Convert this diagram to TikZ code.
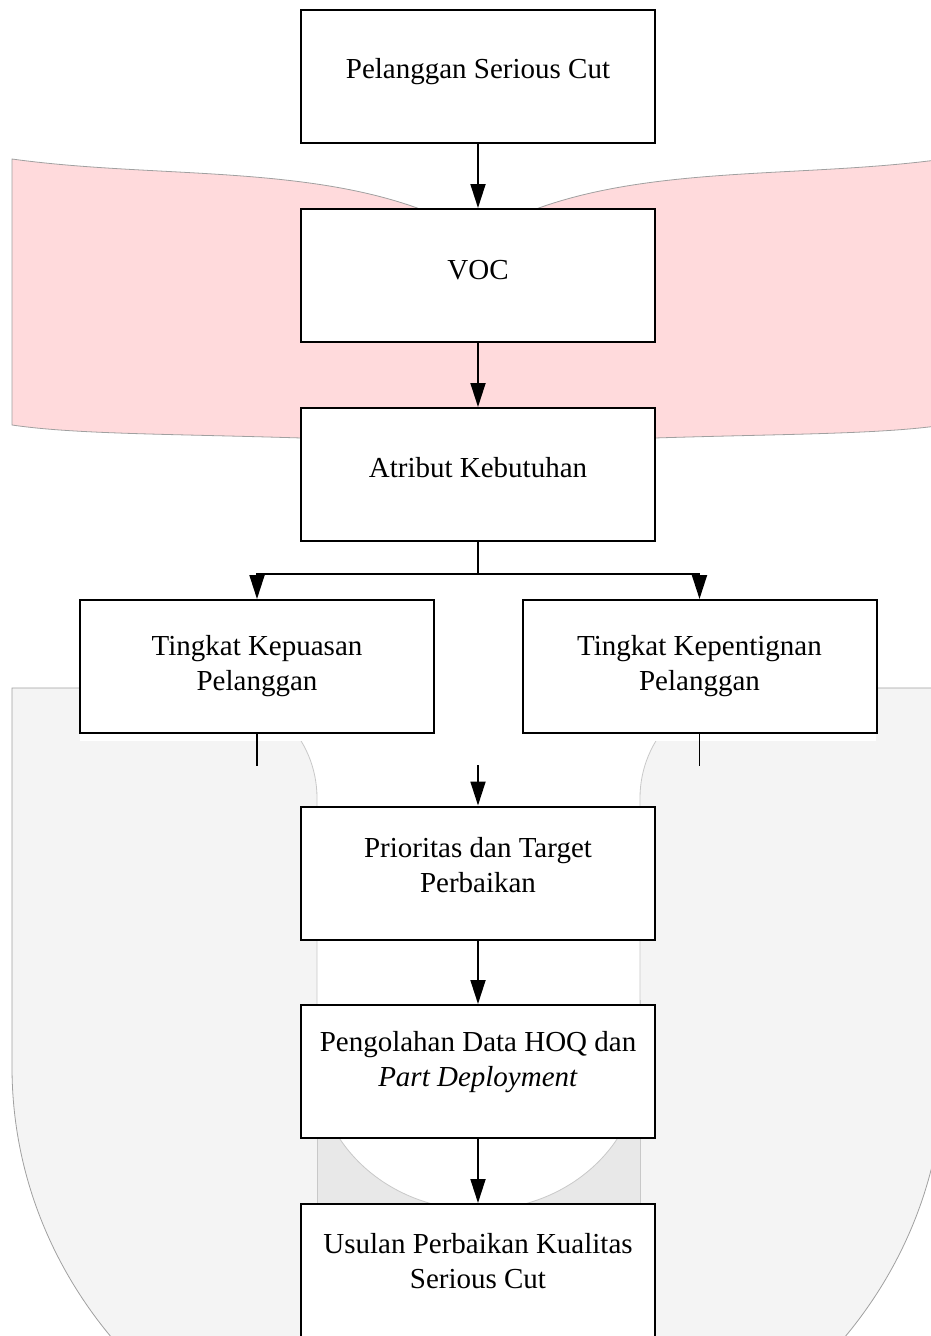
\documentclass[tikz,border=0pt]{standalone}
\usepackage{fontspec}
\setmainfont{Liberation Serif}
\usetikzlibrary{arrows.meta}
\definecolor{pinkfill}{RGB}{255,218,220}
\definecolor{greyfill}{RGB}{244,244,244}
\definecolor{darkfill}{RGB}{232,232,232}
\definecolor{edgegrey}{RGB}{160,160,160}
\definecolor{lightedge}{RGB}{200,200,200}
\tikzset{
  box/.style={draw=black, line width=2pt, fill=white, minimum width=354pt, minimum height=133pt, inner sep=0pt},
  txt/.style={font=\fontsize{29}{35}\selectfont, align=center, inner sep=0pt},
  conn/.style={line width=1.8pt, draw=black},
  arr/.style={conn, -{Triangle[width=15pt,length=24pt]}},
}
\begin{document}
\begin{tikzpicture}[x=1pt,y=-1pt]
\useasboundingbox (0,0) rectangle (931,1336);
\clip (0,0) rectangle (931,1336);
% grey U shape
\path[fill=greyfill, draw=edgegrey, line width=0.8pt]
  (12,688) -- (944,688) -- (944,1067)
  .. controls (944,1309) and (735,1505) .. (478,1505)
  .. controls (221,1505) and (12,1309) .. (12,1067) -- cycle;
% darker part at channel bottom
\path[fill=darkfill, draw=lightedge, line width=0.8pt] (317,1000) rectangle (640,1230);
% white channel
\fill[white] (207,680) -- (207,688) .. controls (267.8,688) and (317,737.2) .. (317,798)
  -- (317,1064)
  .. controls (317,1144.6) and (389.3,1210) .. (478.5,1210)
  .. controls (567.7,1210) and (640,1144.6) .. (640,1064)
  -- (640,798)
  .. controls (640,737.2) and (689.2,688) .. (750,688) -- (750,680) -- cycle;
\draw[lightedge, line width=0.8pt]
  (207,688) .. controls (267.8,688) and (317,737.2) .. (317,798)
  -- (317,1064)
  .. controls (317,1144.6) and (389.3,1210) .. (478.5,1210)
  .. controls (567.7,1210) and (640,1144.6) .. (640,1064)
  -- (640,798)
  .. controls (640,737.2) and (689.2,688) .. (750,688);
\fill[white] (80,733) rectangle (434,741);
\fill[white] (523,733) rectangle (876,741);
% pink banner
\path[fill=pinkfill, draw=edgegrey, line width=0.8pt]
  (12,159) .. controls (150,178) and (300,165) .. (420,209)
  -- (478,240) -- (536,209)
  .. controls (656,165) and (806,178) .. (944,159)
  -- (944,425)
  .. controls (856,438) and (706,432) .. (478,446)
  .. controls (250,432) and (100,438) .. (12,425) -- cycle;
% boxes
\node[box] (b1) at (478,76) {};
\node[txt] (t1) at ([yshift=4pt]b1.center) {Pelanggan Serious Cut};
\node[box] (b2) at (478,275.5) {};
\node[txt] (t2) at ([yshift=5pt]b2.center) {VOC};
\node[box] (b3) at (478,474.5) {};
\node[txt] (t3) at ([yshift=7pt]b3.center) {Atribut Kebutuhan};
\node[box] (b4) at (257,666.5) {};
\node[txt] (t4) at (b4.center) {Tingkat Kepuasan\\Pelanggan};
\node[box] (b5) at (699.5,666.5) {};
\node[txt] (t5) at (b5.center) {Tingkat Kepentignan\\Pelanggan};
\node[box] (b6) at (478,873) {};
\node[txt] (t6) at ([yshift=8pt]b6.center) {Prioritas dan Target\\Perbaikan};
\node[box] (b7) at (478,1071.5) {};
\node[txt] (t7) at ([yshift=9pt]b7.center) {Pengolahan Data HOQ dan\\\textit{Part Deployment}};
\node[box] (b8) at (478,1270.5) {};
\node[txt] (t8) at ([yshift=9pt]b8.center) {Usulan Perbaikan Kualitas\\Serious Cut};
% connectors
\draw[arr] (b1.south) -- (b2.north);
\draw[arr] (b2.south) -- (b3.north);
\draw[arr] (b3.south) -- ++(0,32) -| (b4.north);
\draw[arr] (b3.south) -- ++(0,32) -| (b5.north);
\draw[conn] (b4.south) -- ++(0,32);
\draw[conn] (b5.south) -- ++(0,32);
\coordinate (m) at (478,765);
\draw[arr] (m) -- (b6.north);
\draw[arr] (b6.south) -- (b7.north);
\draw[arr] (b7.south) -- (b8.north);
\end{tikzpicture}
\end{document}
